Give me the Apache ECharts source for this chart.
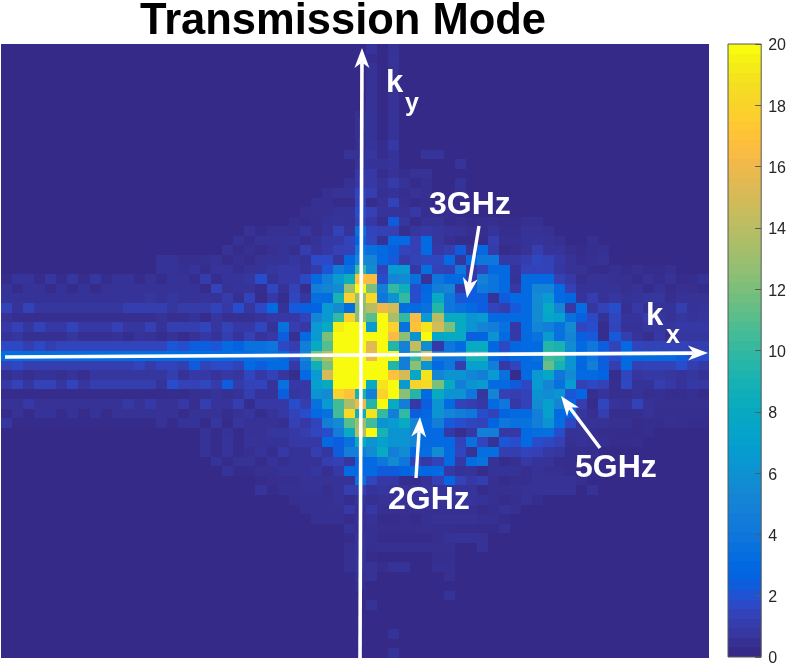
<!DOCTYPE html>
<html>
<head>
<meta charset="utf-8">
<title>Transmission Mode</title>
<script src="https://cdn.jsdelivr.net/npm/echarts@6/dist/echarts.min.js"></script>
<style>
  html, body { margin: 0; padding: 0; background: #fff; }
  #chart { width: 789px; height: 667px; }
</style>
</head>
<body>
<div id="chart"></div>
<script>
"use strict";

const GRID_SIZE = 64;
const TITLE = "Transmission Mode";
const COLORBAR_MIN = 0;
const COLORBAR_MAX = 20;
const COLORBAR_STEP = 2;

/* 每行从 ROW_START 那一列开始，其余格子都是 0 */
const ROW_START = [
  33, 33, 33, 33, 33, 33, 33, 32, 32, 32, 32, 31, 32, 32, 31, 29,
  28, 27, 26, 22, 21, 20, 14, 14, 0, 0, 0, 0, 0, 0, 0, 0,
  0, 0, 0, 0, 0, 0, 0, 0, 18, 18, 18, 19, 20, 23, 23, 26,
  27, 28, 31, 31, 31, 31, 31, 32, 32, 40, 33, 0, 0, 35, 0, 35
];
const ROW_VALUES = [
  /* 0 */ [.5,0,.4],
  /* 1 */ [.2,0,.5],
  /* 2 */ [.4,0,.4],
  /* 3 */ [.4,0,.4],
  /* 4 */ [.4,0,.4],
  /* 5 */ [.4,0,.4],
  /* 6 */ [.4,0,.4],
  /* 7 */ [.3,.45,0,.45],
  /* 8 */ [.3,.45,0,.45],
  /* 9 */ [.3,.45,0,.45],
  /* 10 */ [.25,.5,.2,.75],
  /* 11 */ [.45,.45,.6,.2,.45,0,0,.5,.5],
  /* 12 */ [.4,.45,.45,.5,0,0,0,0,0,.5],
  /* 13 */ [.75,.75,.2,.4,.2,.4,.4],
  /* 14 */ [.3,.75,.75,.4,.85,.45,.1,.3,0,0,.45],
  /* 15 */ [.3,.4,.4,1.3,1,.3,.45,.25,.4,.3,0,0,.3],
  /* 16 */ [.3,.3,.1,.1,1.25,.2,.4,1.25,.3,.1,.25],
  /* 17 */ [.25,.3,.3,.45,.45,1.7,1.1,.5,.5,.4,.75,.25,.2,.2],
  /* 18 */ [.25,.1,.25,.45,.5,.4,1.3,.75,.25,2.2,.6,.1,.4,.4,.1,.25,.1,.2,.25,.1,.1,.3,.3],
  /* 19 */ [.4,.1,.3,.3,.3,.6,.25,.5,1.25,.5,3.5,1.3,1.1,1.1,.25,.6,.75,.6,.5,.4,.25,.2,.5,.2,.2,.4,.4,.3],
  /* 20 */ [.4,.1,.4,.4,.4,.5,.25,.45,.75,.75,1.25,2.6,1.4,.4,3,3,1.1,3,.6,.3,.1,.1,.1,1,.3,.3,.45,.5,.4,.3,0,0,.3],
  /* 21 */ [.4,.1,.3,.1,.3,.45,.25,1,.5,.75,1.1,1.25,4,3.5,3,2.4,1.3,1.1,3,.75,1,2.2,.4,3,.85,.1,.25,.4,1,.5,.5,.25,.1,.25,.3],
  /* 22 */ [.45,.45,.25,.25,.3,.4,.1,.3,.1,.4,.45,.45,.6,.45,1.6,1.6,.6,2.8,5,5,3,2.1,.85,1.2,1.4,1.4,3,.6,3,4,4,.75,.75,1,1.4,1.2,.75,.4,.2,.3,.4],
  /* 23 */ [.4,.45,.3,.5,.2,.5,.5,.2,.4,.45,.6,.75,.75,.5,.85,2,4.3,3.5,10,5.5,1.25,6.5,6.5,.75,3.3,1.25,1.1,4,.75,1.3,3,3,.5,1.2,1.25,1.25,.6,.4,.4,.2,.1,.3,.1,.3,.1,.1,.3],
  /* 24 */ [.1,.5,.5,.1,.6,.2,.6,.2,.6,.2,.45,.45,.1,.45,.1,.45,.45,.2,.85,.2,.5,.5,.6,1.7,.45,.75,.75,1.5,3,4.5,6.5,8.5,17,16.5,1.7,5,5.5,3.5,.5,3.8,3,3,.75,4.8,3.7,3,.45,3,3,3,1.1,.75,.25,.4,.4,.3,.3,.1,.4,.2,.4,.1,.2,.45],
  /* 25 */ [.45,.1,.45,.45,.1,.45,.1,.45,.1,.4,.45,.4,.45,.4,.45,.4,.45,.45,.1,1.25,.4,.5,.5,.2,1.4,.45,1.2,.25,4.5,5,5.5,13,20,12,4.5,10,8.5,1.7,2.8,4.5,5,.75,2.3,4.2,3.7,3,.75,3,5,5,3,1.1,.45,.45,.45,.4,.3,.4,.1,.4,.1,.3,.25,.1],
  /* 26 */ [.45,.45,.45,.45,.45,.45,.45,.45,.45,.45,.45,.45,.45,.6,.4,.6,.4,.4,.5,.45,.85,.3,1.25,.1,.75,.2,1.4,.6,3.3,3.2,9,18,13,18.5,4,6,10,1.7,3,8,4,2,2.3,2.3,.45,2.2,3,3,5.5,6.5,3,2.8,.5,1,.45,.6,.45,.5,.6,.6,.25,.4,.4,.4],
  /* 27 */ [1.2,.5,1.2,.6,.6,.6,.6,.6,.6,.6,.6,1,1,1,1,.6,.85,.85,.85,1.25,.75,1.7,.6,1.5,3,.45,2.1,2.4,2.6,6.5,5.5,3.2,12.5,14,16,15,3.2,3,3.5,9.5,4,3.5,3,2.3,1.3,1,2.1,3,5.5,8,5,.75,3.2,.6,1.2,1.7,.3,.75,.3,.45,.45,1,.45,.5],
  /* 28 */ [.4,.25,.25,.25,.25,.25,.25,.25,.25,.25,.25,.25,.25,.25,.45,.25,.25,.45,.1,.6,.3,.3,.3,.5,.75,.75,.75,1.25,5,6.5,10,18,12.5,11,20,13.5,10,16.5,6.5,14,8,8,6,6.5,3,3,3,3,5.5,7.5,7,3.5,2.4,1.5,.45,1.4,.5,.5,.85,.6,.4,.6,.5,.6],
  /* 29 */ [.75,1.1,.6,1.25,.75,.75,1.25,.75,.75,.75,1.1,.6,.6,1.1,.45,1,1,1,1.3,.6,1.2,.75,.75,1.4,.45,3.5,1,.75,6.5,8,19.5,20,20,6.5,20,18,3.5,17,19,15,12,8,6,5,4.5,3.5,.75,3,5,4.5,3.5,5.5,1.4,1.7,.2,1.3,.45,.45,.6,.6,.6,.75,.75,.75],
  /* 30 */ [.45,.6,.3,.3,.3,.3,.6,.3,.3,.3,.4,.2,.5,.4,.2,.45,.1,.4,.75,.45,1,.5,1.1,.5,.75,2.3,.3,3,6.5,12,20,20,20,20,20,16.5,12.5,6,20,7.5,8,8,2.3,2.6,6,3,.75,3,3.6,6.5,3.5,5,2.4,2.1,.2,2.1,1,.5,.25,.75,.25,.6,.6,.6],
  /* 31 */ [1.5,1.5,1,1.5,1,1.3,1.3,1.3,1.3,1.3,1.3,1.3,1.3,1.3,1.3,2,1.7,2.3,2.3,2,3,2.6,3.5,3.5,3.8,1.5,1,4.5,8,11,20,20,20,15.5,20,9.5,4.7,14.5,5.5,.75,4,3,8,8,2.8,1.5,2.8,3,3,9.5,9,5.5,3,4,2.3,1.3,3,1.3,1.2,1.2,1.2,1.2,1,1],
  /* 32 */ [3.2,3.2,3.2,3.2,3.2,3.2,3.2,3.2,3.2,3.2,3.2,3.2,3.2,3.2,3.2,3.2,3.2,3.2,3.2,3.2,3.2,3.2,3.2,3.5,3.5,3,1.7,5,12,14,20,20,20,16,20,20,4.5,10,15,4,4,4,9,9,3,2.3,3,3,3.5,10.5,10,6,3,4,2.3,1.7,3,3,3,3,3,2.3,1.7,1.7],
  /* 33 */ [1.2,1.5,1,1,1,1,1,1,1,1,1,1,1.3,.85,1.25,1.25,1,2.2,1.25,1.6,1.6,1.25,3,2.3,3,3,.75,4,8.5,12,20,20,20,20,20,9.5,4.5,12.5,6,3,4,1,7,7,4.5,.75,1.4,3,3,11.5,9,6,2.8,4.5,2.3,1,3,1.1,1.25,1.25,1.25,1.7,1,.75],
  /* 34 */ [.3,.5,.25,.45,.45,.3,.5,.25,.6,.6,.6,.6,.6,.6,.6,1,.45,.75,.75,.5,.75,.6,1.4,.75,1.25,.6,.2,3,6.5,15,20,20,20,20,20,17,15,7.5,19,5,6,6,5,4.5,6.5,3.5,.1,3,6.5,7.5,4,5.5,3,3,2.6,.2,1.4,.6,.75,.75,.6,.5,.6,.45],
  /* 35 */ [.75,1.25,.6,1.2,1.2,.6,1.3,.6,1,1,1,1,1,1,.5,1.7,1.2,1.2,1.4,.85,2.3,.85,1.2,1.3,.5,3.5,.75,.75,7,8,20,20,20,8,19,20,6.5,18,18.5,12,8,4.5,6,6.5,3,3,2.2,1.5,6.5,5,3.5,6.5,1.1,1.5,1.2,.25,1.5,.45,.45,1,.75,.45,.75,.75],
  /* 36 */ [.1,.1,.1,.1,.1,.1,.1,.1,.1,.1,.1,.1,.1,.1,.1,.2,.1,.3,.3,.5,.3,.45,1,.5,.5,2.3,.6,.75,6,5.5,18,17,9,4.5,18,20,12.5,9.5,3,8,6,6,4,.6,5,1.1,1,1.25,6,5.5,6,2,2.8,.25,.5,.25,.25,.4,.25,.3,.2,.2,.3,.1],
  /* 37 */ [.4,.4,.75,.4,.4,.4,.4,.4,.4,.4,.4,.75,.4,.75,.4,.4,.75,.25,1,.5,.5,1,.2,.75,.75,.75,1.7,1,3.5,6.5,10.5,13.5,16,9.5,20,8,4.5,.75,2.3,6,3,1.25,1,.75,3,4,.75,1.25,5.5,7,5,2.8,1,.1,1.4,.5,.4,1.25,.4,.3,.3,.3,.3,.3],
  /* 38 */ [.1,.4,.1,.45,.45,.1,.45,.1,.45,.1,.4,.4,.4,.4,.4,.4,.1,.4,.4,.4,.2,.4,.6,.2,.5,.75,1.25,1.7,3,3.5,10.5,18.5,8.5,19,10,4.5,10,2.3,2.8,6,5,4.5,4,1.7,1.25,2.6,3,3,4.5,7,3,2.6,.6,.3,1,.2,.2,.25,.45,.25,.25,.25,.25,.25],
  /* 39 */ [.6,.1,.1,.1,.1,.1,.1,.1,.1,.1,.1,.1,.1,.1,.4,.1,.45,.45,.1,.6,.1,.6,.4,.4,.4,.3,1.1,.75,1.3,4.5,5.5,11,13,10.5,6,6.5,8,5,3,4.5,2.1,1.7,1.4,1.25,2.6,4,3.5,3.6,4.5,6,3.2,1.5,.5,.4,.4,.3,.3,.1,.2,.2,.3,.25,.2,.2],
  /* 40 */ [.4,.1,.45,.1,.4,.4,.6,.6,.75,1,1.4,1.7,4.5,8,14,20,9,6,6,5,3,3,.75,.25,.75,4.6,4.5,.75,.75,3,3.3,3.4,1.7,.4,.4,.3,.2,.2,.1,.1,.2],
  /* 41 */ [.4,.1,.5,.1,.5,.4,.45,.45,.75,.75,.75,3,2.3,3.5,8,6,7,6,6,5,3,3,3,1.25,3.5,1.3,.45,2,1.7,3,1.7,1.5,1.1,.3,.4,.3,.3,.1,.1,.2],
  /* 42 */ [.45,.1,.5,.1,.3,.5,.2,.75,.45,.45,1,.6,2.3,4.5,4.5,5.5,8,4.5,5.5,3,3.2,5.5,3,1.4,.45,3.3,3.3,1,1,1.3,1.1,.75,.6,.2,.2,.2],
  /* 43 */ [.45,.1,.4,.4,.1,.5,.25,.45,.45,.4,1,1.1,.6,3,3,4,5.5,4,1.25,.75,1.25,3,.75,3.2,3.6,.4,.1,.3,.75,.5,.5,.2,.2],
  /* 44 */ [.45,.1,.1,.3,.3,.45,.45,.45,.6,.3,.75,3,3,3,2.2,2.2,2.6,3,2.8,3,.75,.45,.5,.1,.45,.45,.45,.25,.4,.3,.3,.2],
  /* 45 */ [.1,.25,.25,.25,.4,.4,.4,.4,.45,3.5,1.4,.75,.75,.2,.2,.4,1.1,2.8,1.2,.75,1,.3,.1,.25,.25,.4,.4,.4,.4,.25],
  /* 46 */ [.5,.1,.3,.3,.4,.45,.25,.45,1,1,.5,.6,.5,.4,.5,.5,.5,.5,.5,.5,.1,.3,.3,.3,.4,.4,.4,.4,.4,0,.4],
  /* 47 */ [.25,.3,.3,.3,.45,.2,.45,.3,.4,.4,.4,.4,.4,.4,.4,.5,.5,.45,.3,.1,.25,.4,.2],
  /* 48 */ [.3,.3,.3,.3,.75,.3,.75,.3,.3,.3,.3,.3,.3,.3,.3,.3,.1,.25,.4,.3],
  /* 49 */ [.3,.3,.3,.1,.3,.45,.1,.1,.25,.1,.3,.4,.4,.4,.4,.3,.3,.1],
  /* 50 */ [.45,.25,.3,.25,.25,.25,.25,.3,.25,.25,.2,.2,.1,.1,.4],
  /* 51 */ [.1,.4,.3,.1,.1,.1,.1,.1,.25,.45,.4,.4,.4],
  /* 52 */ [.3,.4,.25,.3,.3,.3,.3,.3,.3,.3,0,0,.4],
  /* 53 */ [.3,.4,.1,0,0,0,0,0,.25,.25],
  /* 54 */ [.3,.4,.4,.2,.45,.45,0,0,.3,.3],
  /* 55 */ [.3,.4,0,0,0,0,0,0,.3],
  /* 56 */ [.2],
  /* 57 */ [.45],
  /* 58 */ [.45],
  /* 59 */ [],
  /* 60 */ [],
  /* 61 */ [.45],
  /* 62 */ [],
  /* 63 */ [.45]
];

/* parula */
const PARULA_RGB = [
  [.2081,.1663,.5292],[.2116,.1898,.5777],[.2123,.2138,.6270],[.2081,.2386,.6771],
  [.1959,.2645,.7279],[.1707,.2919,.7792],[.1253,.3242,.8303],[.0591,.3598,.8683],
  [.0117,.3875,.8820],[.0060,.4086,.8828],[.0165,.4266,.8786],[.0329,.4430,.8720],
  [.0498,.4586,.8641],[.0629,.4737,.8554],[.0723,.4887,.8467],[.0779,.5040,.8384],
  [.0793,.5200,.8312],[.0749,.5375,.8263],[.0641,.5570,.8240],[.0488,.5772,.8228],
  [.0343,.5966,.8199],[.0265,.6137,.8135],[.0239,.6287,.8038],[.0231,.6418,.7913],
  [.0228,.6535,.7768],[.0267,.6642,.7607],[.0384,.6743,.7436],[.0590,.6838,.7254],
  [.0843,.6928,.7062],[.1133,.7015,.6859],[.1453,.7098,.6646],[.1801,.7177,.6424],
  [.2178,.7250,.6193],[.2586,.7317,.5954],[.3022,.7376,.5712],[.3482,.7424,.5473],
  [.3953,.7459,.5244],[.4420,.7481,.5033],[.4871,.7491,.4840],[.5300,.7491,.4661],
  [.5709,.7485,.4494],[.6099,.7473,.4337],[.6473,.7456,.4188],[.6834,.7435,.4044],
  [.7184,.7411,.3905],[.7525,.7384,.3768],[.7858,.7356,.3633],[.8185,.7327,.3498],
  [.8507,.7299,.3360],[.8824,.7274,.3217],[.9139,.7258,.3063],[.9450,.7261,.2886],
  [.9739,.7314,.2666],[.9938,.7455,.2403],[.9990,.7653,.2164],[.9955,.7861,.1967],
  [.9880,.8066,.1794],[.9789,.8271,.1633],[.9697,.8481,.1475],[.9626,.8705,.1309],
  [.9589,.8949,.1132],[.9598,.9218,.0948],[.9661,.9514,.0755],[.9763,.9831,.0538]
];
const toCss = c => `rgb(${c.map(v => Math.round(v * 255)).join(",")})`;
const PARULA = PARULA_RGB.map(toCss);

const FONT = '"Liberation Sans", Arial, Helvetica, sans-serif';
const PLOT = { left: 1, top: 44, width: 708, height: 614 };
const BAR = { left: 728, top: 44, width: 36, height: 614 };
const AXISCOLOR = "#595959";
const INK = "#262626";

/* 64x64 格子 */
const cells = [];
for (let r = 0; r < GRID_SIZE; r++) {
  for (let c = 0; c < GRID_SIZE; c++) {
    const v = ROW_VALUES[r][c - ROW_START[r]];
    cells.push([c, r, v === undefined ? 0 : v]);
  }
}
const gridLabels = Array.from({ length: GRID_SIZE }, (_, i) => String(i));
const barSteps = PARULA.map((_, i) => [
  COLORBAR_MAX * i / PARULA.length, COLORBAR_MAX * (i + 1) / PARULA.length, i
]);

/* heatmap 在非整数格宽时有接缝，这里把格子边取整 */
function renderCell(params, api) {
  const center = api.coord([api.value(0), api.value(1)]);
  const size = api.size([1, 1]);
  const x0 = Math.round(center[0] - size[0] / 2), x1 = Math.round(center[0] + size[0] / 2);
  const y0 = Math.round(center[1] - size[1] / 2), y1 = Math.round(center[1] + size[1] / 2);
  return { type: "rect",
    shape: { x: x0, y: y0, width: x1 - x0, height: y1 - y0 },
    style: { fill: api.visual("color") } };
}
function renderBarStep(params, api) {
  const a = api.coord([0, api.value(0)]), b = api.coord([1, api.value(1)]);
  return { type: "rect",
    shape: { x: a[0], y: Math.round(b[1]), width: b[0] - a[0], height: Math.round(a[1]) - Math.round(b[1]) },
    style: { fill: PARULA[api.value(2)] } };
}

/* 白色箭头: 线 + 燕尾箭头 */
function arrow(x1, y1, x2, y2, width) {
  const len = Math.hypot(x2 - x1, y2 - y1);
  const ux = (x2 - x1) / len, uy = (y2 - y1) / len;
  const nx = -uy, ny = ux;
  const headLen = 20, headHalf = 7.5;
  const notchX = x2 - ux * headLen * 0.72, notchY = y2 - uy * headLen * 0.72;
  return [
    { type: "line", z: 20,
      shape: { x1, y1, x2: notchX, y2: notchY },
      style: { stroke: "#fff", lineWidth: width } },
    { type: "polygon", z: 20,
      shape: { points: [
        [x2, y2],
        [x2 - ux * headLen + nx * headHalf, y2 - uy * headLen + ny * headHalf],
        [notchX, notchY],
        [x2 - ux * headLen - nx * headHalf, y2 - uy * headLen - ny * headHalf]
      ] },
      style: { fill: "#fff" } }
  ];
}
function label(text, x, y, size) {
  return { type: "text", z: 21, x, y,
    style: { text, fill: "#fff", font: `bold ${size}px ${FONT}`,
             textAlign: "left", textVerticalAlign: "middle" } };
}

const chart = echarts.init(document.getElementById("chart"), null, { renderer: "canvas" });
chart.setOption({
  animation: false,
  backgroundColor: "#fff",
  title: {
    text: TITLE, left: 343, top: 0, padding: 0, textAlign: "center",
    textStyle: { fontFamily: FONT, fontWeight: "bold", fontSize: 43.5, color: "#000" }
  },
  grid: [
    Object.assign({}, PLOT),
    Object.assign({ show: true, z: 8, borderColor: AXISCOLOR, borderWidth: 1,
                    backgroundColor: "transparent" }, BAR)
  ],
  xAxis: [
    { type: "category", data: gridLabels, show: false, gridIndex: 0 },
    { type: "value", min: 0, max: 1, show: false, gridIndex: 1 }
  ],
  yAxis: [
    { type: "category", data: gridLabels, show: false, inverse: true, gridIndex: 0 },
    { type: "value", gridIndex: 1, position: "right", z: 9,
      min: COLORBAR_MIN, max: COLORBAR_MAX, interval: COLORBAR_STEP,
      axisLine: { show: false, onZero: false }, splitLine: { show: false },
      axisTick: { show: true, inside: true, length: 6, lineStyle: { color: AXISCOLOR, width: 1 } },
      axisLabel: { margin: 7, color: INK, fontFamily: FONT, fontSize: 16,
                   verticalAlign: "top", lineHeight: 4 } }
  ],
  visualMap: {
    type: "continuous", show: false, seriesIndex: 0, dimension: 2,
    min: COLORBAR_MIN, max: COLORBAR_MAX,
    inRange: { color: PARULA }
  },
  series: [
    { type: "custom", data: cells, xAxisIndex: 0, yAxisIndex: 0, silent: true,
      renderItem: renderCell, encode: { x: 0, y: 1 }, progressive: 0 },
    { type: "custom", data: barSteps, xAxisIndex: 1, yAxisIndex: 1, silent: true,
      renderItem: renderBarStep, encode: { y: [0, 1] } }
  ],
  graphic: [
    ...arrow(5, 357, 708, 353, 3.6),
    ...arrow(360, 658, 362, 48, 3.6),
    ...arrow(479, 226, 467, 298, 3.4),
    ...arrow(416, 478, 420, 417, 3.4),
    ...arrow(600, 448, 561, 396, 3.4),
    label("3GHz", 429, 205, 32),
    label("2GHz", 388, 500, 32),
    label("5GHz", 575, 468, 32),
    label("k", 386, 83, 31),
    label("y", 405, 104, 25),
    label("k", 646, 316, 31),
    label("x", 666, 336, 25)
  ]
});
</script>
</body>
</html>
